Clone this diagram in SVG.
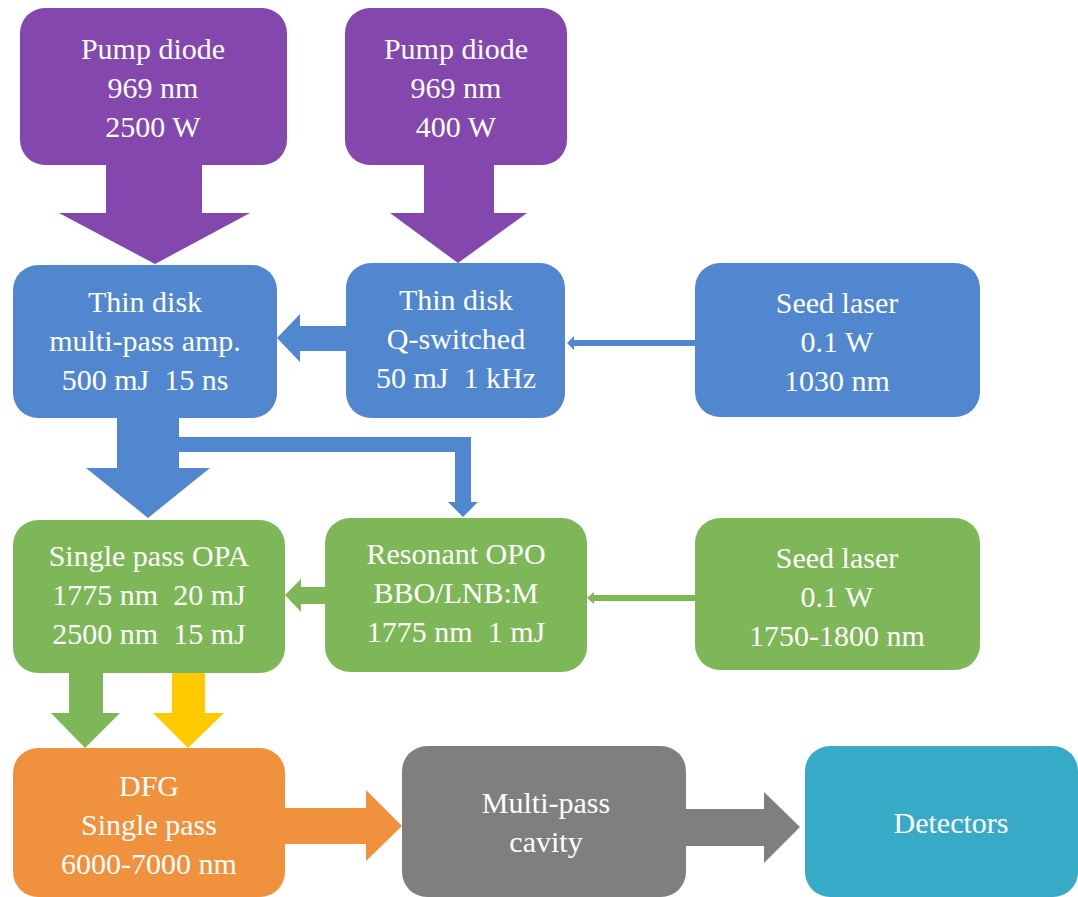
<svg xmlns="http://www.w3.org/2000/svg" width="1078" height="897" viewBox="0 0 1078 897">
<style>
text{font-family:'Liberation Serif',serif;font-size:30px;fill:#fff;text-anchor:middle;white-space:pre}
.pu{fill:#8347AD}.bl{fill:#5187CF}.gr{fill:#7EB757}.or{fill:#F0913E}.gy{fill:#7F7F7F}.te{fill:#37AAC7}.ye{fill:#FFCA00}
</style>
<rect width="1078" height="897" fill="#fff"/>
<g id="connectors">
<polygon class="pu" points="106,160 202,160 202,213 250,213 155,264 59,213 106,213"/>
<polygon class="pu" points="424,160 494,160 494,213 527,213 458,263 390,213 424,213"/>
<polygon class="bl" points="350,326 300,326 300,314 277,338 300,362 300,351 350,351"/>
<polygon class="bl" points="697,340 574,340 574,336 567,343 574,350 574,346 697,346"/>
<polygon class="bl" points="117,410 179,410 179,437 471,437 471,502 478,502 463,517 448,502 455,502 455,452 179,452 179,468 210,468 148,518 86,468 117,468"/>
<polygon class="gr" points="330,587 301,587 301,579 285,595 301,612 301,604 330,604"/>
<polygon class="gr" points="697,595 594,595 594,592 587,598 594,604 594,601 697,601"/>
<polygon class="gr" points="69,665 103,665 103,713 120,713 85,748 51,713 69,713"/>
<polygon class="ye" points="172,665 205,665 205,713 224,713 188,748 153,713 172,713"/>
<polygon class="or" points="280,808 366,808 366,790 402,826 366,861 366,844 280,844"/>
<polygon class="gy" points="680,809 764,809 764,792 800,827 764,863 764,846 680,846"/>
</g>
<g id="pump1"><rect class="pu" x="20" y="8" width="267" height="157" rx="25"/>
<text x="153" y="59" font-family="Liberation Serif">Pump diode</text><text x="153" y="98" font-family="Liberation Serif">969 nm</text><text x="153" y="137" font-family="Liberation Serif">2500 W</text></g>
<g id="pump2"><rect class="pu" x="345" y="8" width="222" height="157" rx="25"/>
<text x="456" y="59" font-family="Liberation Serif">Pump diode</text><text x="456" y="98" font-family="Liberation Serif">969 nm</text><text x="456" y="137" font-family="Liberation Serif">400 W</text></g>
<g id="amp"><rect class="bl" x="13" y="265" width="264" height="153" rx="25"/>
<text x="145" y="312" font-family="Liberation Serif">Thin disk</text><text x="145" y="351" font-family="Liberation Serif">multi-pass amp.</text><text x="145" y="390" font-family="Liberation Serif">500 mJ  15 ns</text></g>
<g id="qsw"><rect class="bl" x="346" y="263" width="219" height="155" rx="25"/>
<text x="456" y="310" font-family="Liberation Serif">Thin disk</text><text x="456" y="349" font-family="Liberation Serif">Q-switched</text><text x="456" y="388" font-family="Liberation Serif">50 mJ  1 kHz</text></g>
<g id="seed1"><rect class="bl" x="695" y="263" width="285" height="154" rx="25"/>
<text x="837" y="313" font-family="Liberation Serif">Seed laser</text><text x="837" y="352" font-family="Liberation Serif">0.1 W</text><text x="837" y="391" font-family="Liberation Serif">1030 nm</text></g>
<g id="opa"><rect class="gr" x="13" y="520" width="272" height="153" rx="25"/>
<text x="149" y="566" font-family="Liberation Serif">Single pass OPA</text><text x="149" y="605" font-family="Liberation Serif">1775 nm  20 mJ</text><text x="149" y="644" font-family="Liberation Serif">2500 nm  15 mJ</text></g>
<g id="opo"><rect class="gr" x="325" y="518" width="262" height="154" rx="25"/>
<text x="456" y="564" font-family="Liberation Serif">Resonant OPO</text><text x="456" y="603" font-family="Liberation Serif">BBO/LNB:M</text><text x="456" y="642" font-family="Liberation Serif">1775 nm  1 mJ</text></g>
<g id="seed2"><rect class="gr" x="695" y="518" width="285" height="152" rx="25"/>
<text x="837" y="568" font-family="Liberation Serif">Seed laser</text><text x="837" y="607" font-family="Liberation Serif">0.1 W</text><text x="837" y="646" font-family="Liberation Serif">1750-1800 nm</text></g>
<g id="dfg"><rect class="or" x="13" y="748" width="272" height="149" rx="25"/>
<text x="149" y="796" font-family="Liberation Serif">DFG</text><text x="149" y="835" font-family="Liberation Serif">Single pass</text><text x="149" y="874" font-family="Liberation Serif">6000-7000 nm</text></g>
<g id="cavity"><rect class="gy" x="402" y="746" width="284" height="151" rx="25"/>
<text x="546" y="813" font-family="Liberation Serif">Multi-pass</text><text x="546" y="852" font-family="Liberation Serif">cavity</text></g>
<g id="detectors"><rect class="te" x="805" y="746" width="273" height="151" rx="25"/>
<text x="951" y="833" font-family="Liberation Serif">Detectors</text></g>
</svg>
